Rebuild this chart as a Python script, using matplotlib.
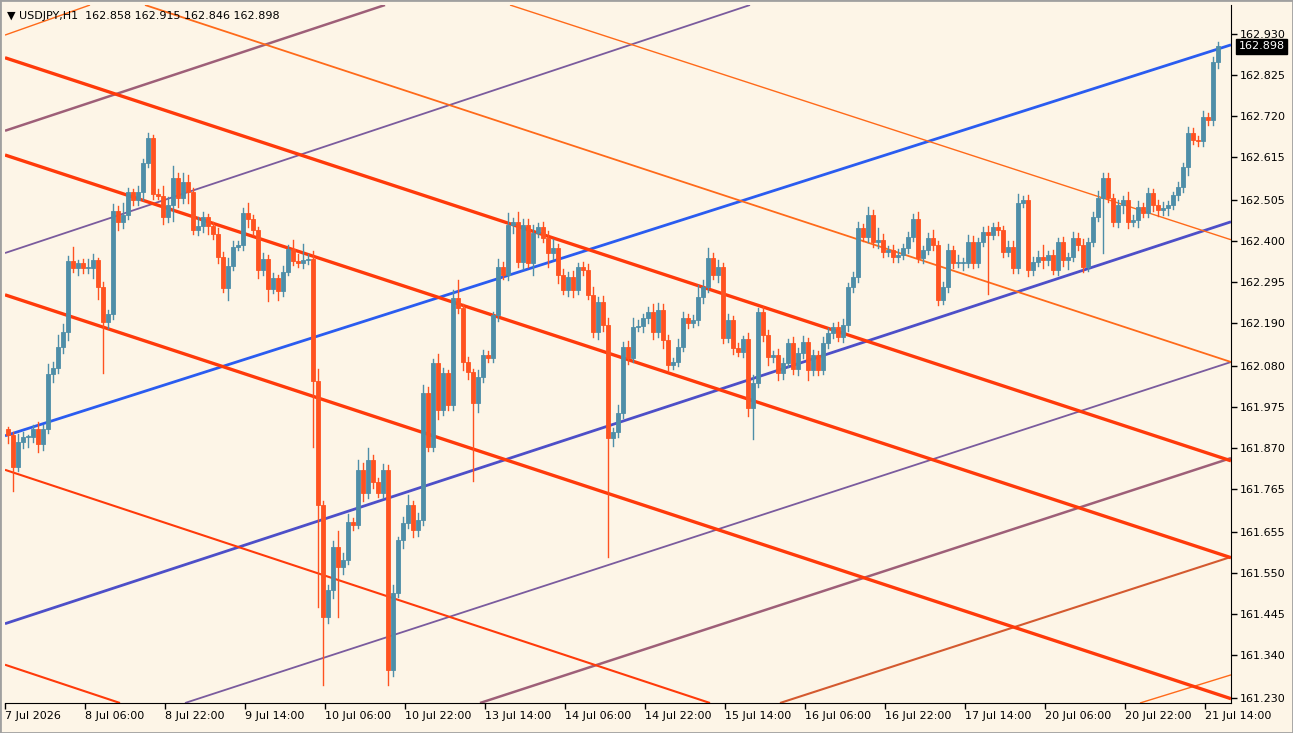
import matplotlib
matplotlib.use("Agg")
import matplotlib.pyplot as plt
from matplotlib.patches import Rectangle
import numpy as np

symbol = "USDJPY,H1"
header_ohlc = "162.858 162.915 162.846 162.898"
last_price = 162.898

closes = [
161.903,161.821,161.885,161.898,161.898,161.919,161.880,161.919,162.060,162.075,
162.129,162.167,162.349,162.331,162.344,162.331,162.331,162.351,162.282,162.193,
162.213,162.477,162.449,162.467,162.526,162.505,162.526,162.600,162.664,162.520,
162.515,162.462,162.492,162.561,162.510,162.551,162.526,162.428,162.438,162.462,
162.438,162.418,162.359,162.280,162.336,162.385,162.390,162.472,162.456,162.428,
162.326,162.354,162.277,162.305,162.272,162.321,162.380,162.349,162.344,162.351,
162.354,162.042,161.724,161.438,161.507,161.617,161.566,161.583,161.681,161.673,
161.814,161.755,161.839,161.783,161.755,161.814,161.302,161.499,161.635,161.678,
161.724,161.660,161.686,162.011,161.873,162.088,161.967,162.062,161.980,162.254,
162.229,162.090,162.065,161.985,162.052,162.108,162.101,162.211,162.334,162.313,
162.441,162.449,162.346,162.441,162.344,162.421,162.436,162.408,162.369,162.382,
162.313,162.275,162.308,162.275,162.334,162.326,162.262,162.167,162.244,162.185,
161.896,161.911,161.960,162.129,162.101,162.180,162.182,162.203,162.218,162.167,
162.223,162.147,162.083,162.090,162.129,162.203,162.190,162.198,162.257,162.282,
162.357,162.313,162.334,162.152,162.198,162.126,162.116,162.149,161.973,162.037,
162.218,162.159,162.103,162.108,162.062,162.088,162.139,162.072,162.113,162.142,
162.070,162.108,162.070,162.139,162.165,162.180,162.154,162.185,162.282,162.308,
162.433,162.410,162.467,162.398,162.403,162.372,162.377,162.359,162.364,162.382,
162.410,162.456,162.357,162.377,162.408,162.390,162.249,162.282,162.377,162.344,
162.344,162.344,162.398,162.344,162.398,162.423,162.415,162.436,162.428,162.372,
162.385,162.331,162.497,162.505,162.326,162.346,162.359,162.351,162.364,162.326,
162.398,162.351,162.359,162.408,162.390,162.334,162.398,162.462,162.510,162.561,
162.510,162.449,162.492,162.505,162.449,162.454,162.487,162.472,162.523,162.492,
162.479,162.485,162.492,162.518,162.538,162.590,162.677,162.659,162.656,162.718,
162.710,162.858,162.898]
first_open = 161.919

# wick lengths in thousandths of a yen (estimated)
upper_wick = [
5,8,20,12,6,10,18,9,25,14, 30,20,12,35,8,10,22,15,6,12, 9,18,12,30,10,8,14,10,12,8,
14,25,20,30,12,22,18,10,24,12, 8,10,15,12,20,14,9,12,26,10, 8,16,10,12,9,14,10,22,18,40,
12,20,30,10,12,14,40,18,20,10, 25,18,30,12,10,15,12,20,8,14, 25,10,18,20,15,10,22,12,8,20,
45,10,12,8,18,14,10,8,20,12, 30,10,25,14,15,20,10,12,18,22, 10,14,12,16,10,12,15,20,12,14,
18,10,20,12,14,22,15,10,12,20, 18,15,12,10,20,14,10,12,30,18, 25,12,18,10,14,10,12,8,15,20,
10,14,12,10,16,12,10,15,12,14, 10,12,10,14,12,10,12,14,10,12, 15,10,20,12,30,14,10,12,16,10,
12,14,18,10,12,20,10,12,14,10, 20,12,18,14,10,12,15,10,12,10, 14,16,22,10,12,12,14,30,10,12,
10,12,10,14,12,15,10,12,18,14, 12,10,14,10,20,12,14,10,12,10, 12,14,10,8,12,10,15,12,10,14,
10,12,10]
lower_wick = [
20,60,10,15,25,12,20,14,10,20, 12,15,20,10,18,14,12,25,30,130, 16,12,20,15,10,12,14,20,10,12,
8,18,14,40,22,12,30,10,12,15, 20,12,16,12,30,10,8,12,20,14, 20,12,30,10,22,12,8,10,12,14,
10,170,260,175,15,20,130,18,10,12, 8,20,12,15,10,12,38,15,10,20, 12,18,15,14,12,10,22,12,14,12,
14,20,18,200,22,14,10,12,15,10, 12,20,14,18,12,30,10,12,35,15, 20,12,15,18,12,14,10,12,18,16,
305,20,12,14,15,12,10,14,12,18, 12,20,14,12,10,12,14,10,12,15, 12,10,18,14,12,16,10,12,20,80,
12,14,20,12,18,15,10,12,14,12, 25,12,14,10,12,14,10,12,15,12, 14,10,12,14,16,12,10,12,14,10,
12,10,12,14,10,12,14,10,12,14, 12,18,12,14,10,12,150,10,12,14, 10,12,14,10,16,12,10,20,12,10,
12,14,22,10,12,14,12,10,12,140, 10,12,14,20,15,12,18,12,10,16, 14,12,18,10,12,14,20,10,12,14,
12,14,16]

date_labels = ["7 Jul 2026", "8 Jul 06:00", "8 Jul 22:00", "9 Jul 14:00", "10 Jul 06:00",
               "10 Jul 22:00", "13 Jul 14:00", "14 Jul 06:00", "14 Jul 22:00", "15 Jul 14:00",
               "16 Jul 06:00", "16 Jul 22:00", "17 Jul 14:00", "20 Jul 06:00", "20 Jul 22:00",
               "21 Jul 14:00"]
price_ticks = [162.930, 162.825, 162.720, 162.615, 162.505, 162.400, 162.295, 162.190, 162.080,
               161.975, 161.870, 161.765, 161.655, 161.550, 161.445, 161.340, 161.230]

# trend lines: (i0, p0, i1, p1, color, width)
trend_lines = [
    (-0.6, 161.901, 244.6, 162.902, "#2a5cf0", 2.0),
    (-0.6, 161.420, 244.6, 162.449, "#4d4fc8", 2.0),
    (-0.6, 162.369, 148.4, 163.004, "#7a5b9e", 1.3),
    (-0.6, 162.682, 75.4, 163.004, "#9e5f78", 1.8),
    (35.4, 161.217, 244.6, 162.090, "#7a5b9e", 1.3),
    (94.4, 161.217, 244.6, 161.844, "#9e5f78", 1.8),
    (154.4, 161.217, 244.6, 161.591, "#d45a30", 1.5),
    (226.4, 161.217, 244.6, 161.289, "#ff6a1a", 1.0),
    (-0.6, 162.927, 16.4, 163.004, "#ff6a1a", 1.0),
    (27.4, 163.004, 244.6, 162.090, "#ff6a1a", 1.3),
    (100.4, 163.004, 244.6, 162.403, "#ff6a1a", 1.0),
    (-0.6, 162.869, 244.6, 161.837, "#ff3a0a", 2.4),
    (-0.6, 162.620, 244.6, 161.589, "#ff3a0a", 2.4),
    (-0.6, 162.262, 244.6, 161.228, "#ff3a0a", 2.4),
    (-0.6, 161.814, 140.4, 161.217, "#ff3a0a", 1.5),
    (-0.6, 161.315, 22.4, 161.217, "#ff3a0a", 1.5),
]

BG = "#fdf5e7"
BULL = "#4e8ea8"
BEAR = "#ff5220"

fig = plt.figure(figsize=(12.93, 7.33), dpi=100, facecolor=BG)
ax = fig.add_axes([5/1293, 30/733, 1226/1293, 698/733])
ax.set_facecolor(BG)
ymin, ymax = 161.217, 163.004
ax.set_xlim(-0.6, 244.6)
ax.set_ylim(ymin, ymax)

for (i0, p0, i1, p1, c, w) in trend_lines:
    ax.plot([i0, i1], [p0, p1], color=c, lw=w, solid_capstyle="butt", zorder=2)

n = len(closes)
opens = [first_open] + closes[:-1]
for i in range(n):
    o, c = opens[i], closes[i]
    hi = max(o, c) + upper_wick[i] / 1000
    lo = min(o, c) - lower_wick[i] / 1000
    col = BULL if c >= o else BEAR
    ax.plot([i, i], [lo, hi], color=col, lw=1.0, zorder=3)
    h = max(abs(c - o), 0.003)
    ax.add_patch(Rectangle((i - 0.32, min(o, c)), 0.64, h, facecolor=col,
                           edgecolor=col, lw=0.6, zorder=4))

for s in ["top", "left"]:
    ax.spines[s].set_visible(False)
ax.spines["right"].set_color("black")
ax.spines["bottom"].set_color("black")
ax.yaxis.tick_right()
ax.set_yticks(price_ticks)
ax.set_yticklabels([f"{p:.3f}" for p in price_ticks], fontsize=8, family="DejaVu Sans")
ax.set_xticks([16 * k - 0.6 for k in range(len(date_labels))])
ax.set_xticklabels(date_labels, fontsize=8, ha="left", family="DejaVu Sans")
ax.tick_params(axis="both", length=4, width=1, colors="black", direction="out", pad=2)

ax.text(1.006, (last_price - ymin) / (ymax - ymin), f"{last_price:.3f}", transform=ax.transAxes,
        fontsize=8, color="white", va="center", ha="left",
        bbox=dict(boxstyle="square,pad=0.2", facecolor="black", edgecolor="black"), zorder=10)

fig.text(7/1293, 1 - 16/733, "\u25bc " + symbol + "  " + header_ohlc, fontsize=8,
         va="center", ha="left", color="black")

fig.add_artist(Rectangle((0, 0), 1, 1, transform=fig.transFigure, fill=False,
                         edgecolor="#a0a0a0", lw=2))

fig.savefig("out.png", dpi=100, facecolor=BG)
